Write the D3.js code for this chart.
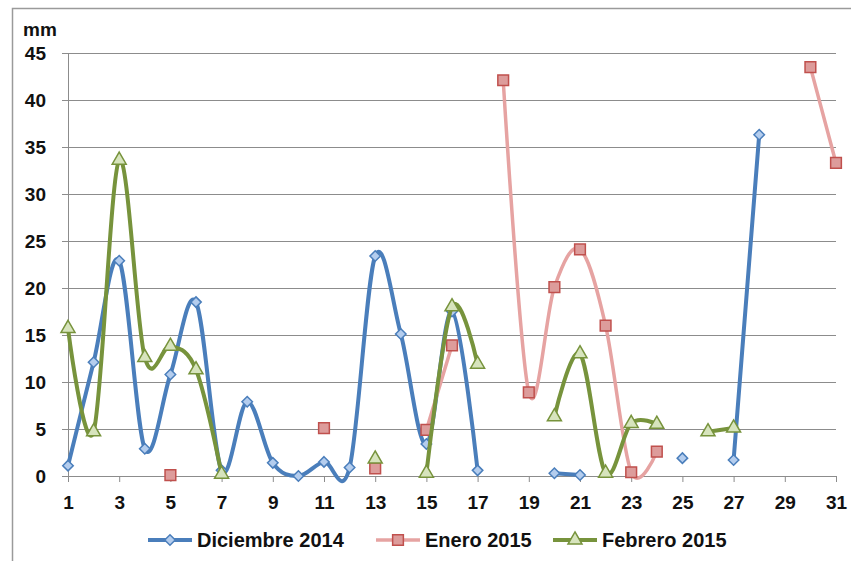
<!DOCTYPE html>
<html>
<head>
<meta charset="utf-8">
<script src="https://cdn.jsdelivr.net/npm/d3@7"></script>
<style>
  body { margin: 0; background: #fff; }
  svg { display: block; }
</style>
</head>
<body>
<div id="chart"></div>
<script>
// data (mm per day, null = no data)
const days = d3.range(1, 32);
const xTicks = d3.range(1, 32, 2);
const yTicks = [0, 5, 10, 15, 20, 25, 30, 35, 40, 45];
const seriesNames = ["Diciembre 2014", "Enero 2015", "Febrero 2015"];

const diciembre = [1.1, 12.1, 22.9, 2.9, 10.8, 18.5, 0.6, 7.9, 1.4, 0, 1.5, 0.9, 23.4, 15.1, 3.4, 17.5, 0.6,
    null, null, 0.3, 0.1, null, null, null, 1.9, null, 1.7, 36.3, null, null, null];
const enero = [null, null, null, null, 0.1, null, null, null, null, null, 5.1, null, 0.8, null, 4.9, 13.9, null,
    42.1, 8.9, 20.1, 24.1, 16.0, 0.4, 2.6, null, null, null, null, null, 43.5, 33.3];
const febrero = [15.7, 4.7, 33.6, 12.6, 13.8, 11.3, 0.2, null, null, null, null, null, 1.8, null, 0.3, 18.0, 11.9,
    null, null, 6.3, 13.0, 0.3, 5.6, 5.5, null, 4.7, 5.1, null, null, null, null];

const width = 851, height = 561;
const font = "'Liberation Sans', Arial, sans-serif";

const svg = d3.select("#chart")
    .append("svg")
    .attr("width", width)
    .attr("height", height);

svg.append("rect")
    .attr("width", width).attr("height", height)
    .attr("fill", "#fff");

// outer chart frame (runs off the right and bottom edge)
svg.append("rect")
    .attr("x", 12.5).attr("y", 8.5)
    .attr("width", 900).attr("height", 600)
    .attr("fill", "none")
    .attr("stroke", "#9a9a9a")
    .attr("stroke-width", 1.5);

// scales
const x = d3.scaleLinear().domain([1, 31]).range([68, 836]);
const y = d3.scaleLinear().domain([0, 45]).range([476, 53]);

// horizontal gridlines
svg.append("g")
    .selectAll("line")
    .data(yTicks.filter(d => d > 0))
    .enter().append("line")
    .attr("x1", x(1)).attr("x2", x(31))
    .attr("y1", d => y(d)).attr("y2", d => y(d))
    .attr("stroke", "#8c8c8c")
    .attr("stroke-width", 1)
    .style("shape-rendering", "crispEdges");

// Y axis
const yAxis = svg.append("g")
    .attr("transform", "translate(" + x(1) + ",0)")
    .call(d3.axisLeft(y).tickValues(yTicks).tickSize(6).tickPadding(16).tickSizeOuter(0));
yAxis.select(".domain").attr("stroke", "#8c8c8c");
yAxis.selectAll(".tick line").attr("stroke", "#8c8c8c");
yAxis.selectAll("text")
    .style("font-family", font)
    .style("font-size", "19px")
    .style("font-weight", "bold")
    .attr("fill", "#111");

// X axis
const xAxis = svg.append("g")
    .attr("transform", "translate(0," + y(0) + ")")
    .call(d3.axisBottom(x).tickValues(xTicks).tickSize(6).tickPadding(14).tickSizeOuter(0));
xAxis.select(".domain").attr("stroke", "#8c8c8c");
xAxis.selectAll(".tick line").attr("stroke", "#8c8c8c");
xAxis.selectAll("text")
    .style("font-family", font)
    .style("font-size", "19px")
    .style("font-weight", "bold")
    .attr("fill", "#111");

// unit label
svg.append("text")
    .attr("x", 23).attr("y", 36)
    .text("mm")
    .style("font-family", font)
    .style("font-size", "19px")
    .style("font-weight", "bold")
    .attr("fill", "#111");

// Excel style diamond: a square turned 45 degrees
const diamond = {
    draw: function (ctx, size) {
        const r = Math.sqrt(size) / 2;
        ctx.moveTo(0, -r); ctx.lineTo(r, 0); ctx.lineTo(0, r); ctx.lineTo(-r, 0); ctx.closePath();
    }
};

// series styles
const styles = [
    { values: diciembre, line: "#4a7ebb", lw: 4, fill: "#b4cdee", stroke: "#4a7ebb", shape: diamond, size: 110 },
    { values: enero, line: "#e6a3a2", lw: 3.5, fill: "#dd9c9b", stroke: "#c0504d", shape: d3.symbolSquare, size: 115 },
    { values: febrero, line: "#77933c", lw: 4, fill: "#d7e4bd", stroke: "#77933c", shape: d3.symbolTriangle, size: 85 }
];

const line = d3.line()
    .defined(d => d.v != null)
    .x(d => x(d.day))
    .y(d => y(d.v))
    .curve(d3.curveCardinal.tension(0));

styles.forEach(function (s) {
    const pts = days.map((day, i) => ({ day: day, v: s.values[i] }));
    const g = svg.append("g");
    g.append("path")
        .datum(pts)
        .attr("d", line)
        .attr("fill", "none")
        .attr("stroke", s.line)
        .attr("stroke-width", s.lw)
        .attr("stroke-linejoin", "round")
        .attr("stroke-linecap", "round");
    g.selectAll("path.mk")
        .data(pts.filter(d => d.v != null))
        .enter().append("path")
        .attr("class", "mk")
        .attr("transform", d => "translate(" + x(d.day) + "," + y(d.v) + ")")
        .attr("d", d3.symbol().type(s.shape).size(s.size))
        .attr("fill", s.fill)
        .attr("stroke", s.stroke)
        .attr("stroke-width", 1.5);
});

// legend
const legendX = [148, 376, 553];
const legend = svg.append("g")
    .selectAll("g")
    .data(styles)
    .enter().append("g")
    .attr("transform", (d, i) => "translate(" + legendX[i] + ",540)");

legend.append("line")
    .attr("x1", 0).attr("x2", 44)
    .attr("stroke", d => d.line)
    .attr("stroke-width", d => d.lw);

legend.append("path")
    .attr("transform", "translate(22,0)")
    .attr("d", d => d3.symbol().type(d.shape).size(d.size)())
    .attr("fill", d => d.fill)
    .attr("stroke", d => d.stroke)
    .attr("stroke-width", 1.5);

legend.append("text")
    .attr("x", 49)
    .attr("dy", "0.35em")
    .text((d, i) => seriesNames[i])
    .style("font-family", font)
    .style("font-size", "20px")
    .style("font-weight", "bold")
    .attr("fill", "#111");
</script>
</body>
</html>
